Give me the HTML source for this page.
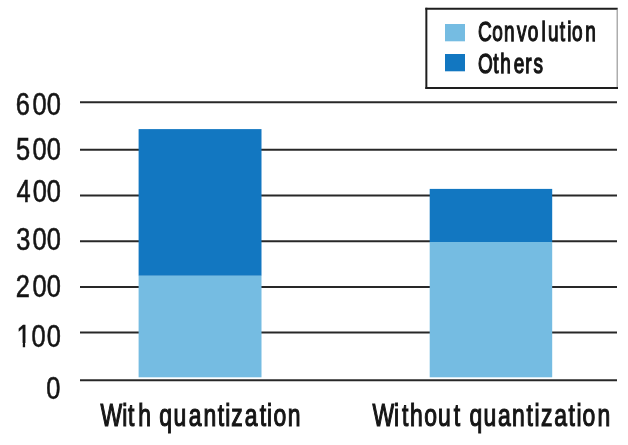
<!DOCTYPE html>
<html><head><meta charset="utf-8">
<style>
html,body{margin:0;padding:0;background:#fff;}
body{width:628px;height:445px;overflow:hidden;}
svg{display:block;will-change:transform;}
text{font-family:"Liberation Sans",Arial,sans-serif;fill:#151515;stroke:#151515;stroke-width:0.9px;}
text.yl{stroke-width:0.6px;}
text.lg{stroke-width:1.1px;vector-effect:non-scaling-stroke;}
text.xl{stroke-width:1.2px;}
</style></head>
<body>
<svg width="628" height="445" viewBox="0 0 628 445">
<rect width="628" height="445" fill="#fff"/>

<g stroke="#282828" stroke-width="2">
<line x1="80" y1="102.25" x2="617" y2="102.25"/>
<line x1="80" y1="149.77" x2="617" y2="149.77"/>
<line x1="80" y1="195.43" x2="617" y2="195.43"/>
<line x1="80" y1="241.26" x2="617" y2="241.26"/>
<line x1="80" y1="286.91" x2="617" y2="286.91"/>
<line x1="80" y1="332.57" x2="617" y2="332.57"/>
<line x1="80" y1="380.35" x2="617" y2="380.35"/>
</g>
<rect x="138.6" y="129.1" width="122.9" height="146.70" fill="#1277c1"/>
<rect x="138.6" y="275.8" width="122.9" height="101.50" fill="#75bce2"/>
<rect x="429.7" y="188.9" width="122.5" height="53.10" fill="#1277c1"/>
<rect x="429.7" y="242" width="122.5" height="135.30" fill="#75bce2"/>
<text class="yl" transform="scale(0.82,1)" x="19.28 39.55 56.90" y="114.7" font-size="31">600</text>
<text class="yl" transform="scale(0.82,1)" x="19.61 39.72 56.90" y="160.3" font-size="31">500</text>
<text class="yl" transform="scale(0.82,1)" x="20.14 39.98 56.90" y="202" font-size="31">400</text>
<text class="yl" transform="scale(0.82,1)" x="19.67 39.75 56.90" y="250.2" font-size="31">300</text>
<text class="yl" transform="scale(0.82,1)" x="19.29 39.56 56.90" y="297.1" font-size="31">200</text>
<text class="yl" transform="scale(0.82,1)" x="20.04 38.47 56.90" y="347" font-size="31">100</text>
<rect x="17" y="343" width="5.78" height="5" fill="#fff"/>
<rect x="25.12" y="343" width="5.88" height="5" fill="#fff"/>
<text class="yl" transform="scale(0.82,1)" x="56.35" y="398.7" font-size="31">0</text>
<text class="xl" transform="scale(0.74,1)" x="135.81 165.14 173.04 186.86 206.19 215.28 234.62 255.17 274.92 294.25 304.42 312.59 330.87 350.88 360.78 369.76 388.83" y="426.5" font-size="31">With quantization</text>
<text class="xl" transform="scale(0.74,1)" x="503.38 532.47 543.11 554.12 573.35 592.05 613.04 623.37 634.52 653.48 672.85 691.82 711.59 722.33 730.94 748.98 768.35 779.09 787.02 807.48" y="426.5" font-size="31">Without quantization</text>
<g fill="none">
<line x1="425.35" y1="8.77" x2="617.7" y2="8.77" stroke="#1e1e1e" stroke-width="2"/>
<line x1="426.35" y1="7.77" x2="426.35" y2="88.9" stroke="#1e1e1e" stroke-width="2"/>
<line x1="425.35" y1="87.9" x2="618.0" y2="87.9" stroke="#1e1e1e" stroke-width="2"/>
<line x1="617.2" y1="9.77" x2="617.2" y2="86.9" stroke="#999" stroke-width="1.2"/>
</g>
<rect x="445" y="24" width="20" height="17.3" fill="#75bce2"/>
<rect x="445" y="54" width="20" height="17.3" fill="#1277c1"/>
<text class="lg" transform="scale(0.68,1)" x="702.99 724.04 741.03 760.23 776.09 796.17 805.72 823.15 834.26 841.17 860.80" y="41.3" font-size="28">Convolution</text>
<text class="lg" transform="scale(0.68,1)" x="703.09 725.44 735.70 755.38 772.26 784.66" y="72.8" font-size="28">Others</text>
</svg>
</body></html>
